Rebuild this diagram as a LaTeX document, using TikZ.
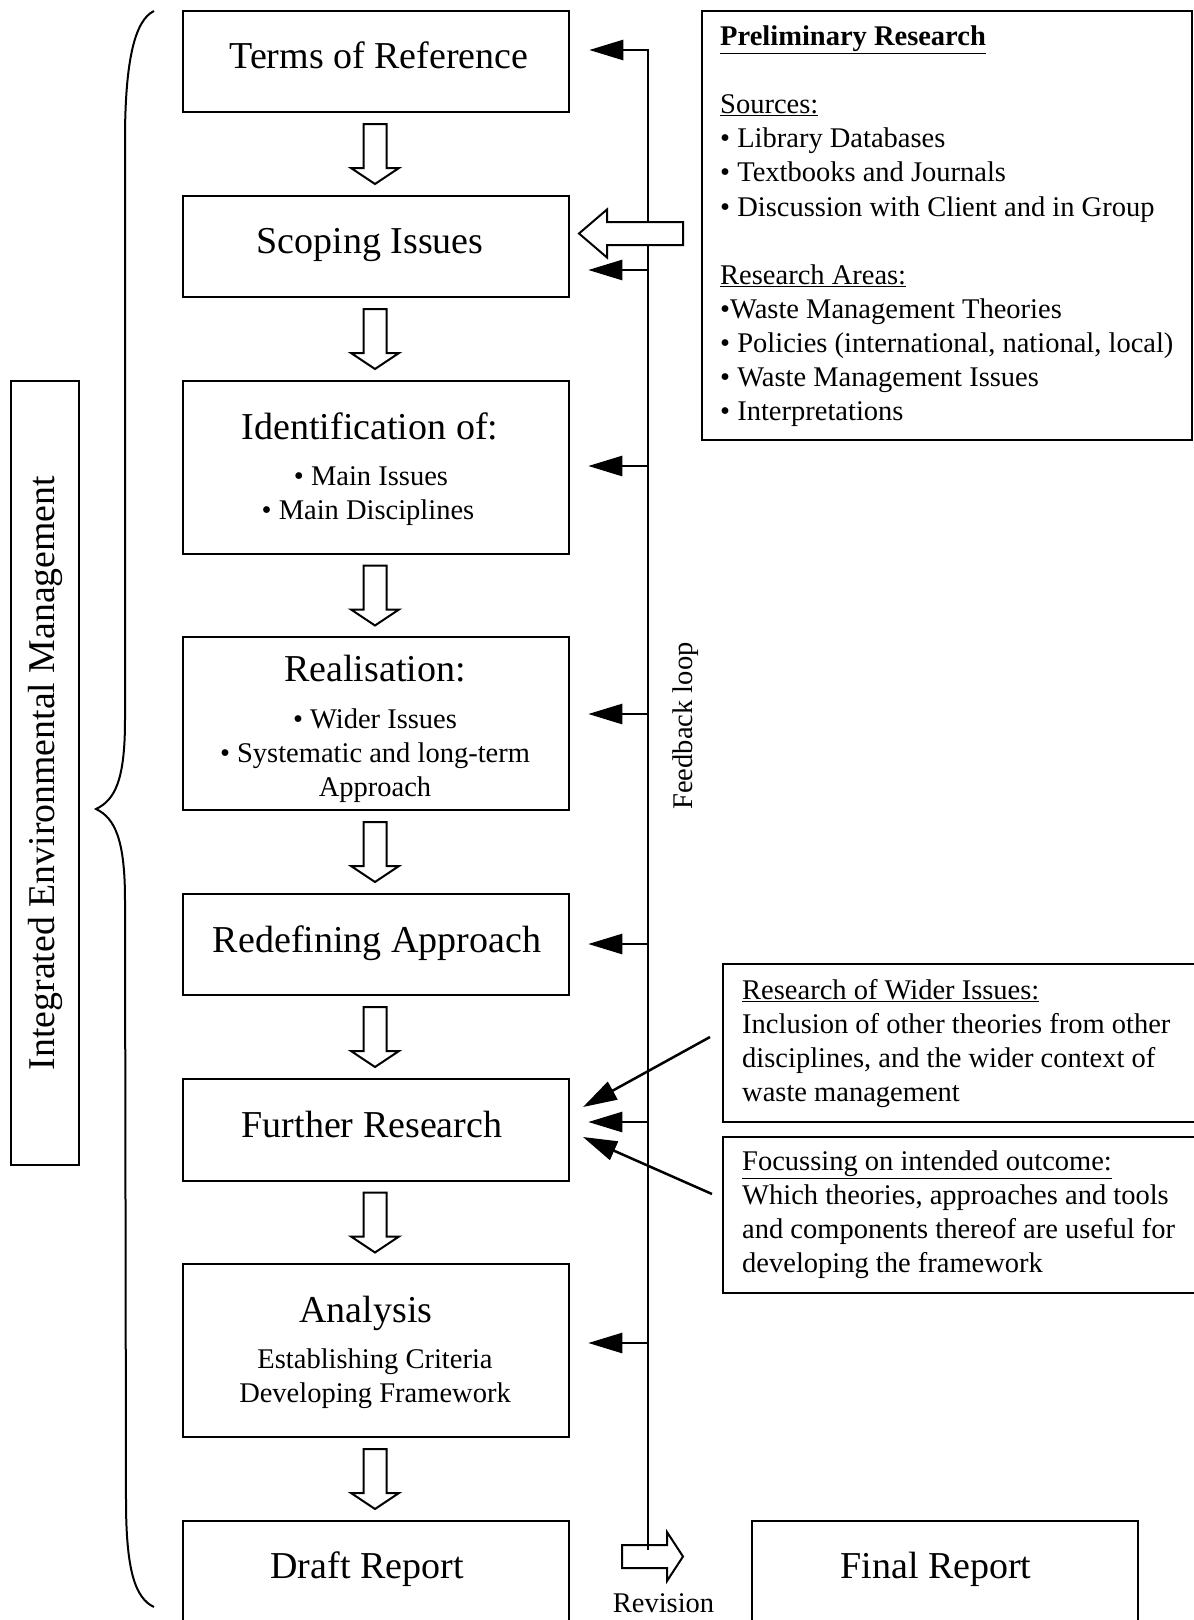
\documentclass[tikz,border=0pt]{standalone}
\usepackage{fontspec}
\setmainfont{Liberation Serif}
\usetikzlibrary{arrows.meta,calc}
\newcommand\bigf{\fontsize{38}{44}\selectfont}
\newcommand\iemf{\fontsize{37.8}{44}\selectfont}
\newcommand\smf{\fontsize{28.5}{34.1}\selectfont}
\begin{document}
\begin{tikzpicture}[x=1pt,y=-1pt,
  box/.style={draw, line width=2.5pt, inner sep=0pt},
  head/.style={anchor=base, inner sep=0pt, font=\bigf},
  sub/.style={anchor=base, inner sep=0pt, font=\smf},
  para/.style={anchor=base west, inner sep=0pt, font=\smf},
  fbarrow/.style={line width=2.5pt, -{Triangle[length=34pt,width=20pt]}},
  hollow/.style={draw, fill=white, line width=2pt, line join=miter},
  hollowdown/.pic={\draw[hollow] (-11.5,-30) -- (11.5,-30) -- (11.5,14) -- (24,14) -- (0,30) -- (-24,14) -- (-11.5,14) -- cycle;}
]
\path[use as bounding box, clip] (0,0) rectangle (1194,1620);

% main boxes
\node[box, minimum width=386pt, minimum height=101pt] (b1) at (376,61.5) {};
\node[box, minimum width=386pt, minimum height=101pt] (b2) at (376,246.5) {};
\node[box, minimum width=386pt, minimum height=173pt] (b3) at (376,467.5) {};
\node[box, minimum width=386pt, minimum height=173pt] (b4) at (376,723.5) {};
\node[box, minimum width=386pt, minimum height=101pt] (b5) at (376,944.5) {};
\node[box, minimum width=386pt, minimum height=102pt] (b6) at (376,1130) {};
\node[box, minimum width=386pt, minimum height=173pt] (b7) at (376,1350.5) {};
\node[box, minimum width=386pt, minimum height=139pt] (b8) at (376,1590.5) {};
\node[box, minimum width=386pt, minimum height=139pt] (fin) at (945,1590.5) {};

% side boxes
\node[box, minimum width=490pt, minimum height=429pt] (pre) at (947,225.5) {};
\node[box, minimum width=492pt, minimum height=158pt] (wid) at (969,1043) {};
\node[box, minimum width=492pt, minimum height=156pt] (foc) at (969,1215) {};
\node[box, minimum width=68pt, minimum height=784pt] (iem) at (45,773) {};

% texts in main boxes
\node[head] (t1) at (379,68.5) {Terms of Reference};
\node[head] (t2) at (370,253.5) {Scoping Issues};
\node[head] (t3) at (370,439) {Identification of:};
\node[sub] (t3a) at (371,485.5) {• Main Issues};
\node[sub] (t3b) at (368,519.5) {• Main Disciplines};
\node[head] (t4) at (375,681.5) {Realisation:};
\node[sub] (t4a) at (375,728.5) {• Wider Issues};
\node[sub] (t4b) at (375,762.5) {• Systematic and long-term};
\node[sub] (t4c) at (375,796.5) {Approach};
\node[head] (t5) at (377,952.5) {Redefining Approach};
\node[head] (t6) at (372,1137.5) {Further Research};
\node[head] (t7) at (366,1322.5) {Analysis};
\node[sub] (t7a) at (375,1368.5) {Establishing Criteria};
\node[sub] (t7b) at (375,1402.5) {Developing Framework};
\node[head] (t8) at (367,1578.5) {Draft Report};
\node[head] (t9) at (936,1578.5) {Final Report};

% side texts
\node[para] (pretxt) at (720,45.5) {\begin{tabular}[t]{@{}l@{}}
\textbf{\underline{Preliminary Research}}\\
\\
\underline{Sources:}\\
• Library Databases\\
• Textbooks and Journals\\
• Discussion with Client and in Group\\
\\
\underline{Research Areas:}\\
•Waste Management Theories\\
• Policies (international, national, local)\\
• Waste Management Issues\\
• Interpretations
\end{tabular}};
\node[para] (widtxt) at (742,999) {\begin{tabular}[t]{@{}l@{}}
\underline{Research of Wider Issues:}\\
Inclusion of other theories from other\\
disciplines, and the wider context of\\
waste management
\end{tabular}};
\node[para] (foctxt) at (742,1170.5) {\begin{tabular}[t]{@{}l@{}}
\underline{Focussing on intended outcome:}\\
Which theories, approaches and tools\\
and components thereof are useful for\\
developing the framework
\end{tabular}};
\node[rotate=90, font=\iemf, inner sep=0pt] (iemtxt) at (45,773) {Integrated Environmental Management};
\node[rotate=90, font=\smf, inner sep=0pt] (fbtxt) at (686,726) {Feedback loop};
\node[sub] (revtxt) at (663.5,1612) {Revision};

% brace
\draw[line width=2pt] (154,11) .. controls (135,20) and (125,60) .. (125,140) -- (125,720)
  .. controls (125,780) and (115,800) .. (96,809)
  .. controls (115,818) and (125,840) .. (125,900) -- (126,1500)
  .. controls (126,1570) and (135,1598) .. (154,1607);

% hollow down arrows
\foreach \a/\b in {b1/b2,b2/b3,b3/b4,b4/b5,b5/b6,b6/b7,b7/b8}{
  \path let \p1=($(\a.south)!0.5!(\b.north)$) in pic at (375,\y1) {hollowdown};
}

% revision arrow
\draw[hollow] (622,1545) -- (667,1545) -- (667,1532) -- (683,1556.5) -- (667,1581) -- (667,1568) -- (622,1568) -- cycle;

% feedback loop
\coordinate (fbot) at (648,1550);
\coordinate (f1) at (648,50);
\draw[fbarrow, shorten >=19pt] (fbot) -- (f1) -- (f1 -| b1.east);
\foreach \yy/\bx in {270/b2,466/b3,714/b4,944/b5,1122/b6,1343/b7}{
  \draw[fbarrow, shorten >=18pt] (648,\yy) -- (\bx.east |- 648,\yy);
}

% scoping hollow arrow (from preliminary research)
\draw[hollow] (683,222) -- (607,222) -- (607,209.5) -- (579,233.5) -- (607,257.5) -- (607,245) -- (683,245) -- cycle;

% slanted arrows
\coordinate (w1) at (710,1037);
\coordinate (w2) at (583,1107);
\coordinate (g1) at (712,1194);
\coordinate (g2) at (583,1137);
\draw[fbarrow] (w1) -- (w2);
\draw[fbarrow] (g1) -- (g2);
\end{tikzpicture}
\end{document}
